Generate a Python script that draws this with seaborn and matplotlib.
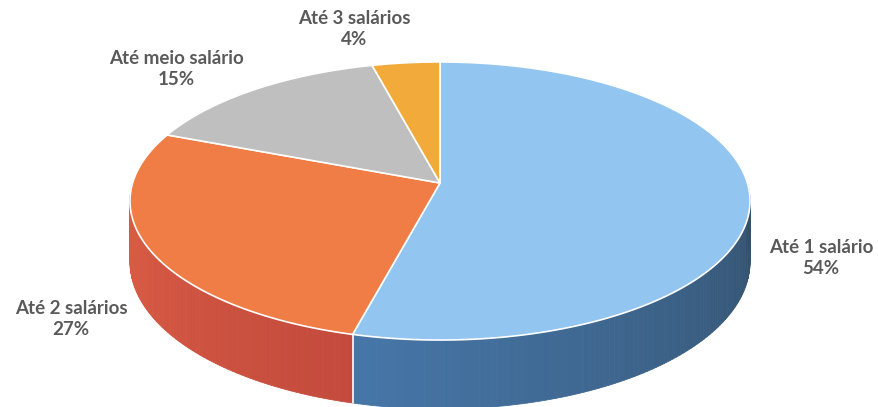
import numpy as np
import matplotlib
matplotlib.use("Agg")
import matplotlib.pyplot as plt
import seaborn as sns

# ---- data ----
categories = ["Até 1 salário", "Até 2 salários", "Até meio salário", "Até 3 salários"]
percent = [54, 27, 15, 4]
pct_labels = ["54%", "27%", "15%", "4%"]

# ---- styles ----
top_colors = ["#92C5F0", "#EF7D45", "#BFBFBF", "#F2AA3A"]
side_colors = [("#4676A8", "#33506B"), ("#DE5E45", "#C34B3D"),
               ("#8F8F8F", "#8F8F8F"), ("#C58520", "#C58520")]
label_xy = [(821, 258), (71, 319), (176, 69), (354, 29)]

sns.set_theme(style="white")
plt.rcParams["font.family"] = ["Lato", "DejaVu Sans"]

fig = plt.figure(figsize=(8.79, 4.07), dpi=100)
ax = fig.add_axes([0, 0, 1, 1])
ax.set_xlim(0, 879)
ax.set_ylim(407, 0)
ax.axis("off")

# perspective geometry of the 3D pie (pixel space)
CX, CY, A, B, K, D = 440, 183, 307.4, 136.7, 0.1295, 60


def proj(phi_deg, r=1.0, drop=0.0):
    t = np.radians(phi_deg)
    u = r * np.cos(t)
    v = r * np.sin(t)
    w = 1 + K * v
    return CX + A * u / w, CY - B * v / w + drop / w


frac = np.array(percent, dtype=float) / sum(percent)
bounds = 90 - 360 * np.concatenate([[0], np.cumsum(frac)])

# ---- side walls ----
for i in range(len(percent)):
    lo = max(bounds[i + 1], -180)
    hi = min(bounds[i], 0)
    if lo >= hi:
        continue
    n = max(int(np.ceil(hi - lo)), 2)
    edges = np.linspace(lo, hi, n + 1)
    pal = sns.blend_palette(list(side_colors[i]), n_colors=n)
    for j in range(n):
        a0, a1 = edges[j], edges[j + 1]
        x0t, y0t = proj(a0)
        x1t, y1t = proj(a1)
        x0b, y0b = proj(a0, drop=D)
        x1b, y1b = proj(a1, drop=D)
        ax.fill([x0t, x1t, x1b, x0b], [y0t, y1t, y1b, y0b],
                color=pal[j], lw=0.6, ec=pal[j], zorder=1)

# seams on side
for b in bounds:
    if -180 < b < 0:
        xt, yt = proj(b)
        xb, yb = proj(b, drop=D)
        ax.plot([xt, xb], [yt, yb], color="white", lw=1.2, zorder=2)

# ---- top face ----
for i in range(len(percent)):
    angs = np.linspace(bounds[i], bounds[i + 1], 200)
    xs, ys = proj(angs)
    px = np.concatenate([[CX], xs])
    py = np.concatenate([[CY], ys])
    ax.fill(px, py, facecolor=top_colors[i], edgecolor="white", lw=1.2, zorder=3)

# ---- labels ----
for cat, pl, (x, y) in zip(categories, pct_labels, label_xy):
    ax.text(x, y, f"{cat}\n{pl}", ha="center", va="center", fontsize=13.5,
            fontweight="bold", color="#5A5A5A", linespacing=1.25, zorder=5)

fig.savefig("out.png", dpi=100)
